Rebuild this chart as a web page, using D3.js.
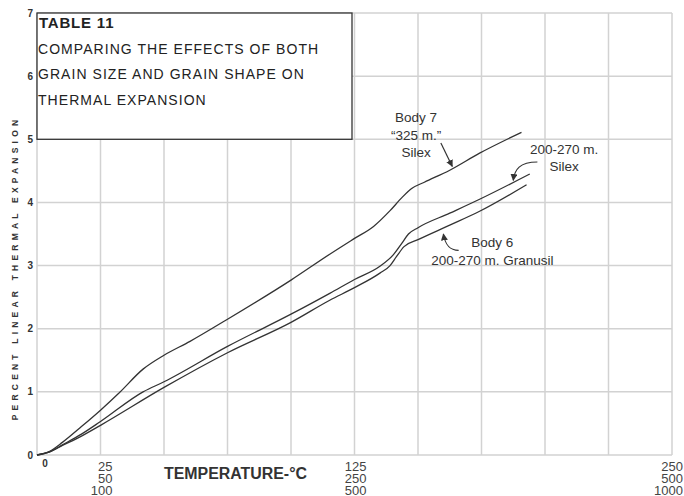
<!DOCTYPE html>
<html>
<head>
<meta charset="utf-8">
<script src="https://cdn.jsdelivr.net/npm/d3@7"></script>
<style>
  body { margin: 0; background: #fff; }
  svg { display: block; }
</style>
</head>
<body>
<svg id="chart" width="684" height="496"></svg>
<script>
// temperatures in °C (bottom tick row), expansion in percent
var body7Temp = [0, 20, 40, 70, 100, 130, 167, 200, 241, 300, 400, 461, 500, 530, 556, 575, 590, 610, 650, 697, 763];
var body7Val  = [0, 0.06, 0.2, 0.45, 0.71, 0.99, 1.36, 1.58, 1.8, 2.15, 2.77, 3.18, 3.43, 3.62, 3.87, 4.08, 4.22, 4.32, 4.51, 4.78, 5.11];

var silexTemp = [0, 20, 40, 70, 100, 167, 200, 300, 400, 461, 500, 540, 561, 575, 585, 600, 650, 697, 776];
var silexVal  = [0, 0.05, 0.16, 0.33, 0.53, 1.0, 1.16, 1.72, 2.23, 2.56, 2.78, 2.99, 3.17, 3.36, 3.5, 3.6, 3.83, 4.05, 4.45];

var granTemp = [0, 20, 40, 70, 100, 200, 300, 400, 461, 500, 540, 556, 566, 578, 600, 650, 697, 771];
var granVal  = [0, 0.05, 0.15, 0.3, 0.47, 1.07, 1.62, 2.1, 2.45, 2.65, 2.88, 3.0, 3.14, 3.3, 3.41, 3.64, 3.86, 4.28];

var yTicks = [0, 1, 2, 3, 4, 5, 6, 7];
var xGrid = [0, 100, 200, 300, 400, 500, 600, 700, 800, 900, 1000];
var xTickPos = [100, 500, 1000];
var xTickRows = [["25", "50", "100"], ["125", "250", "500"], ["250", "500", "1000"]];

var titleLines = ["COMPARING THE EFFECTS OF BOTH", "GRAIN SIZE AND GRAIN SHAPE ON", "THERMAL EXPANSION"];

var svg = d3.select("#chart");
var plotL = 37, plotR = 672, plotT = 13, plotB = 455;

var x = d3.scaleLinear().domain([0, 1000]).range([plotL, plotR]);
var y = d3.scaleLinear().domain([0, 7]).range([plotB, plotT]);

var ink = "#333";
var gridColor = "#d2d2d2";

// grid
var grid = svg.append("g");
grid.selectAll("line.v").data(xGrid).enter().append("line")
  .attr("x1", function(d) { return x(d); }).attr("x2", function(d) { return x(d); })
  .attr("y1", y(7)).attr("y2", y(0))
  .attr("stroke", gridColor).attr("stroke-width", 1.5);
grid.selectAll("line.h").data(yTicks).enter().append("line")
  .attr("x1", x(0)).attr("x2", x(1000))
  .attr("y1", function(d) { return y(d); }).attr("y2", function(d) { return y(d); })
  .attr("stroke", gridColor).attr("stroke-width", 1.5);

// y tick labels
svg.append("g").selectAll("text").data(yTicks).enter().append("text")
  .attr("x", plotL - 4).attr("y", function(d) { return y(d) + 3.5; })
  .attr("text-anchor", "end")
  .attr("font-family", "Liberation Sans, Arial, sans-serif")
  .attr("font-weight", "bold").attr("font-size", 10).attr("fill", ink)
  .text(function(d) { return d; });

// x tick labels
svg.append("text").attr("x", x(0) + 8).attr("y", 467)
  .attr("text-anchor", "middle")
  .attr("font-family", "Liberation Sans, Arial, sans-serif")
  .attr("font-weight", "bold").attr("font-size", 10).attr("fill", ink).text("0");

var xt = svg.append("g").selectAll("g").data(xTickPos).enter().append("g");
xt.each(function(d, i) {
  var g = d3.select(this);
  xTickRows[i].forEach(function(lab, j) {
    g.append("text")
      .attr("x", Math.min(x(d) + 12, 683)).attr("y", 471 + j * 12)
      .attr("text-anchor", "end")
      .attr("font-family", "Liberation Sans, Arial, sans-serif")
      .attr("font-size", 13).attr("fill", "#444")
      .text(lab);
  });
});

// axis titles
svg.append("text").attr("x", 164).attr("y", 479)
  .attr("font-family", "Liberation Sans Narrow, Liberation Sans, sans-serif")
  .attr("font-weight", "bold").attr("font-size", 16).attr("fill", ink)
  .attr("textLength", 143).attr("lengthAdjust", "spacingAndGlyphs")
  .text("TEMPERATURE-°C");

svg.append("text")
  .attr("transform", "translate(18,268) rotate(-90)")
  .attr("text-anchor", "middle")
  .attr("font-family", "Liberation Sans, Arial, sans-serif")
  .attr("font-weight", "bold").attr("font-size", 8.5).attr("fill", ink)
  .attr("letter-spacing", 4.2)
  .text("PERCENT LINEAR THERMAL EXPANSION");

// curves
var line = d3.line()
  .x(function(d) { return x(d[0]); })
  .y(function(d) { return y(d[1]); })
  .curve(d3.curveMonotoneX);

var series = [d3.zip(body7Temp, body7Val), d3.zip(silexTemp, silexVal), d3.zip(granTemp, granVal)];
svg.append("g").selectAll("path").data(series).enter().append("path")
  .attr("d", line)
  .attr("fill", "none").attr("stroke", ink).attr("stroke-width", 1.3);

// arrow marker
svg.append("defs").append("marker")
  .attr("id", "arr").attr("viewBox", "0 0 10 10")
  .attr("refX", 9).attr("refY", 5)
  .attr("markerWidth", 7).attr("markerHeight", 7)
  .attr("markerUnits", "userSpaceOnUse")
  .attr("orient", "auto")
  .append("path").attr("d", "M0,0 L10,5 L0,10 Z").attr("fill", ink);

// annotations (anchored in data units)
var labelFont = "Liberation Sans, Arial, sans-serif";
function label(t, v, lines) {
  var txt = svg.append("text")
    .attr("text-anchor", "middle")
    .attr("font-family", labelFont).attr("font-size", 13.5).attr("fill", ink);
  lines.forEach(function(s, i) {
    txt.append("tspan").attr("x", x(t)).attr("y", y(v) + i * 17.5).text(s);
  });
}
label(597, 5.27, ["Body 7", "\u201c325 m.\u201d", "Silex"]);
label(830, 4.77, ["200-270 m.", "Silex"]);
label(717, 3.29, ["Body 6", "200-270 m. Granusil"]);

// Body 7 pointer
svg.append("line")
  .attr("x1", x(636)).attr("y1", y(4.94))
  .attr("x2", x(654)).attr("y2", y(4.57))
  .attr("stroke", ink).attr("stroke-width", 1.2)
  .attr("marker-end", "url(#arr)");

// Silex pointer (curved)
svg.append("path")
  .attr("d", "M" + x(788) + "," + y(4.64) +
    " C" + x(760) + "," + y(4.64) + " " + x(752) + "," + y(4.52) + " " + x(750) + "," + y(4.35))
  .attr("fill", "none").attr("stroke", ink).attr("stroke-width", 1.2)
  .attr("marker-end", "url(#arr)");

// Granusil pointer (curved)
svg.append("path")
  .attr("d", "M" + x(664) + "," + y(3.24) +
    " C" + x(650) + "," + y(3.24) + " " + x(643) + "," + y(3.32) + " " + x(640) + "," + y(3.5))
  .attr("fill", "none").attr("stroke", ink).attr("stroke-width", 1.2)
  .attr("marker-end", "url(#arr)");

// title box
var box = svg.append("g");
box.append("rect")
  .attr("x", x(0)).attr("y", y(7))
  .attr("width", 315).attr("height", y(5) - y(7))
  .attr("fill", "#fff").attr("stroke", ink).attr("stroke-width", 1.3);
box.append("text").attr("x", x(0) + 2).attr("y", 28)
  .attr("font-family", "Liberation Sans, Arial, sans-serif")
  .attr("font-weight", "bold").attr("font-size", 15).attr("fill", "#222")
  .attr("letter-spacing", 0.8)
  .text("TABLE 11");
box.selectAll("text.t").data(titleLines).enter().append("text")
  .attr("x", x(0) + 1).attr("y", function(d, i) { return 53.5 + i * 25.5; })
  .attr("font-family", "Liberation Sans, Arial, sans-serif")
  .attr("font-size", 14).attr("fill", "#222")
  .attr("letter-spacing", 1.05)
  .text(function(d) { return d; });
</script>
</body>
</html>
